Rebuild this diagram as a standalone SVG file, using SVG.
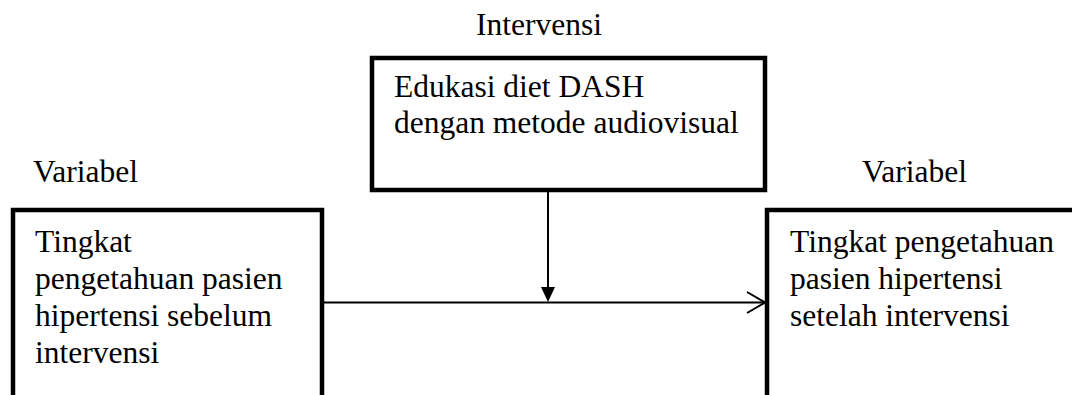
<svg xmlns="http://www.w3.org/2000/svg" width="1072" height="395" viewBox="0 0 1072 395">
<style>
text{font-family:"Liberation Serif","Times New Roman",serif;font-size:31.5px;fill:#000}
.box{fill:#fff;stroke:#000;stroke-width:4.5}
.ln{fill:none;stroke:#000;stroke-width:2}
</style>
<rect width="1072" height="395" fill="#fff"/>
<text x="476" y="35">Intervensi</text>
<text x="33" y="182">Variabel</text>
<text x="862" y="182">Variabel</text>
<g id="intervensi">
<rect class="box" x="372" y="58" width="393" height="132"/>
<text x="394" y="97">Edukasi diet DASH</text>
<text x="394" y="133">dengan metode audiovisual</text>
</g>
<g id="sebelum">
<rect class="box" x="13" y="210" width="309" height="230"/>
<text x="35" y="252">Tingkat</text>
<text x="35" y="289">pengetahuan pasien</text>
<text x="35" y="326">hipertensi sebelum</text>
<text x="35" y="363">intervensi</text>
</g>
<g id="setelah">
<rect class="box" x="767" y="210" width="340" height="230"/>
<text x="790" y="252">Tingkat pengetahuan</text>
<text x="790" y="289">pasien hipertensi</text>
<text x="790" y="326">setelah intervensi</text>
</g>
<g id="connectors">
<line class="ln" x1="324" y1="302.5" x2="764" y2="302.5"/>
<polyline class="ln" points="747,292 765,302.5 747,313"/>
<line class="ln" x1="548" y1="192" x2="548" y2="288"/>
<polygon points="541,287 555,287 548,302" fill="#000"/>
</g>
</svg>
